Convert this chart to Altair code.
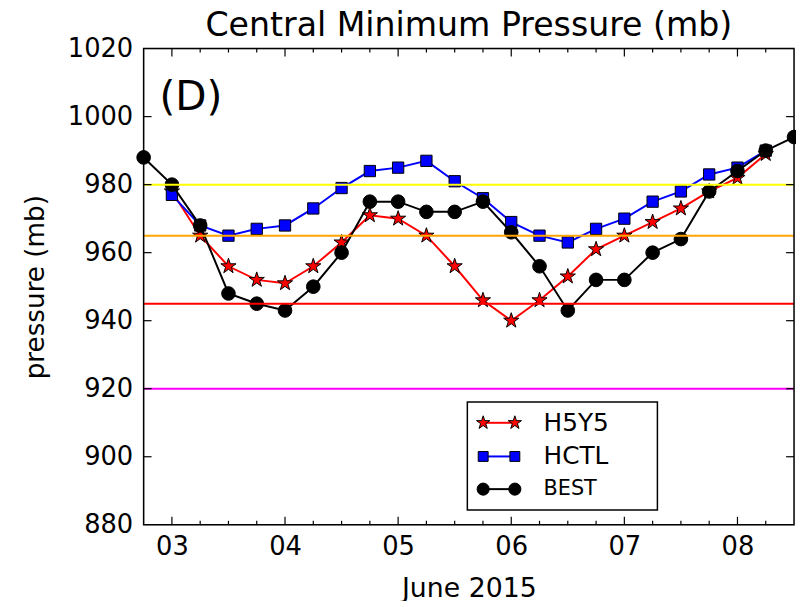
import altair as alt
import pandas as pd

# ---- data (days of June 2015, 6-hourly) ----
best_days = [2.75, 3.0, 3.25, 3.5, 3.75, 4.0, 4.25, 4.5, 4.75, 5.0, 5.25, 5.5,
             5.75, 6.0, 6.25, 6.5, 6.75, 7.0, 7.25, 7.5, 7.75, 8.0, 8.25, 8.5]
best_p = [988, 980, 968, 948, 945, 943, 950, 960, 975, 975, 972, 972,
          975, 966, 956, 943, 952, 952, 960, 964, 978, 984, 990, 994]

model_days = [3.0, 3.25, 3.5, 3.75, 4.0, 4.25, 4.5, 4.75, 5.0, 5.25, 5.5,
              5.75, 6.0, 6.25, 6.5, 6.75, 7.0, 7.25, 7.5, 7.75, 8.0, 8.25]
h5y5_p = [978, 965, 956, 952, 951, 956, 963, 971, 970, 965, 956,
          946, 940, 946, 953, 961, 965, 969, 973, 978, 982, 989]
hctl_p = [977, 968, 965, 967, 968, 973, 979, 984, 985, 987, 981,
          976, 969, 965, 963, 967, 970, 975, 978, 983, 985, 990]

ref_levels = [980, 965, 945, 920]
ref_colors = ["#ffff00", "#ffa500", "#ff0000", "#ff00ff"]

y_ticks = [880, 900, 920, 940, 960, 980, 1000, 1020]
x_major = [3, 4, 5, 6, 7, 8]
x_minor = [3.25, 3.5, 3.75, 4.25, 4.5, 4.75, 5.25, 5.5, 5.75, 6.25, 6.5, 6.75,
           7.25, 7.5, 7.75, 8.25]

legend_labels = ["H5Y5", "HCTL", "BEST"]

W, H = 657, 481
FONT = "DejaVu Sans"
STAR = ("M0,-1L0.225,-0.309L0.951,-0.309L0.363,0.118L0.588,0.809L0,0.382"
        "L-0.588,0.809L-0.363,0.118L-0.951,-0.309L-0.225,-0.309Z")

xscale = alt.Scale(domain=[2.75, 8.5], nice=False, zero=False)
yscale = alt.Scale(domain=[880, 1020], nice=False, zero=False)

best_df = pd.DataFrame({"day": best_days, "p": best_p})
h5_df = pd.DataFrame({"day": model_days, "p": h5y5_p})
hc_df = pd.DataFrame({"day": model_days, "p": hctl_p})

X = alt.X("day:Q", scale=xscale,
          axis=alt.Axis(values=x_major, format="02d", title="June 2015",
                        ticks=False, domain=False, grid=False,
                        labelFont=FONT, labelFontSize=26, labelColor="black",
                        labelPadding=9, titleFont=FONT, titleFontSize=27,
                        titleFontWeight="normal", titleColor="black",
                        titlePadding=16))
Y = alt.Y("p:Q", scale=yscale,
          axis=alt.Axis(values=y_ticks, format="d", title="pressure (mb)",
                        ticks=False, domain=False, grid=False,
                        labelFont=FONT, labelFontSize=26, labelColor="black",
                        labelPadding=11, titleFont=FONT, titleFontSize=26.5,
                        titleFontWeight="normal", titleColor="black",
                        titlePadding=18))


def series(df, color, shape, size):
    line = alt.Chart(df).mark_line(color=color, strokeWidth=2).encode(x=X, y=Y)
    pts = alt.Chart(df).mark_point(shape=shape, size=size, filled=True,
                                   fill=color, stroke="black", strokeWidth=1,
                                   opacity=1).encode(x="day:Q", y="p:Q")
    return line + pts


s_h5 = series(h5_df, "#ff0000", STAR, 260)
s_hc = series(hc_df, "#0000ff", "square", 130)
s_be = series(best_df, "black", "circle", 190)

ref_df = pd.DataFrame({"p": ref_levels, "c": ref_colors})
refs = alt.Chart(ref_df).mark_rule(strokeWidth=2).encode(
    y="p:Q", color=alt.Color("c:N", scale=None))

# inward ticks on all four sides
xmaj_df = pd.DataFrame({"day": x_major})
xmin_df = pd.DataFrame({"day": x_minor})
yt_df = pd.DataFrame({"p": y_ticks[1:-1]})
tk = dict(color="black", strokeWidth=1.2)
ticks = (
    alt.Chart(xmaj_df).mark_rule(**tk).encode(x="day:Q", y=alt.value(H), y2=alt.value(H - 8))
    + alt.Chart(xmaj_df).mark_rule(**tk).encode(x="day:Q", y=alt.value(0), y2=alt.value(8))
    + alt.Chart(xmin_df).mark_rule(**tk).encode(x="day:Q", y=alt.value(H), y2=alt.value(H - 4))
    + alt.Chart(xmin_df).mark_rule(**tk).encode(x="day:Q", y=alt.value(0), y2=alt.value(4))
    + alt.Chart(yt_df).mark_rule(**tk).encode(y="p:Q", x=alt.value(0), x2=alt.value(8))
    + alt.Chart(yt_df).mark_rule(**tk).encode(y="p:Q", x=alt.value(W), x2=alt.value(W - 8))
)

one = pd.DataFrame({"t": ["(D)"]})

# plot frame
frame = alt.Chart(one).mark_rect(fill="transparent", stroke="black", strokeWidth=1.5).encode(
    x=alt.value(0), x2=alt.value(W), y=alt.value(0), y2=alt.value(H))

# panel label
panel = alt.Chart(one).mark_text(font=FONT, fontSize=41, align="left",
                                 baseline="middle", color="black").encode(
    text="t:N", x=alt.value(16), y=alt.value(50))

# legend box
leg_box = alt.Chart(one).mark_rect(fill="white", stroke="black", strokeWidth=1.5).encode(
    x=alt.value(327), x2=alt.value(519), y=alt.value(357), y2=alt.value(466))

leg_rows = [("#ff0000", STAR, 200, 378, 25), ("#0000ff", "square", 100, 412, 25),
            ("black", "circle", 150, 445, 21)]
leg_layers = []
for lab, (col, shp, sz, yy, fs) in zip(legend_labels, leg_rows):
    d = pd.DataFrame({"t": [lab], "x": [0]})
    leg_layers.append(alt.Chart(d).mark_rule(color=col, strokeWidth=2).encode(
        x=alt.value(343), x2=alt.value(375), y=alt.value(yy)))
    d2 = pd.DataFrame({"t": [lab, lab], "k": [0, 1]})
    leg_layers.append(alt.Chart(d2).mark_point(shape=shp, size=sz, filled=True,
                                                fill=col, stroke="black", strokeWidth=1,
                                                opacity=1).encode(
        x=alt.X("k:Q", scale=alt.Scale(domain=[0, 1], range=[343, 375]), axis=None),
        y=alt.value(yy)))
    leg_layers.append(alt.Chart(d).mark_text(font=FONT, fontSize=fs, align="left",
                                             baseline="middle", color="black").encode(
        text="t:N", x=alt.value(404), y=alt.value(yy)))

legend = alt.layer(leg_box, *leg_layers).resolve_scale(x="independent")

main = alt.layer(s_h5, s_hc, s_be, refs, ticks, frame, panel)

chart = alt.layer(main, legend).resolve_scale(x="independent").properties(
    width=W, height=H,
    title=alt.TitleParams("Central Minimum Pressure (mb)", font=FONT, fontSize=33.5,
                          fontWeight="normal", color="black", offset=-8),
    autosize=alt.AutoSizeParams(type="none"),
    padding={"left": 137, "top": 38, "right": 2, "bottom": 74},
).configure_view(stroke=None).configure(background="white")

chart.save("out.html", embed_options={"renderer": "svg", "actions": False})
